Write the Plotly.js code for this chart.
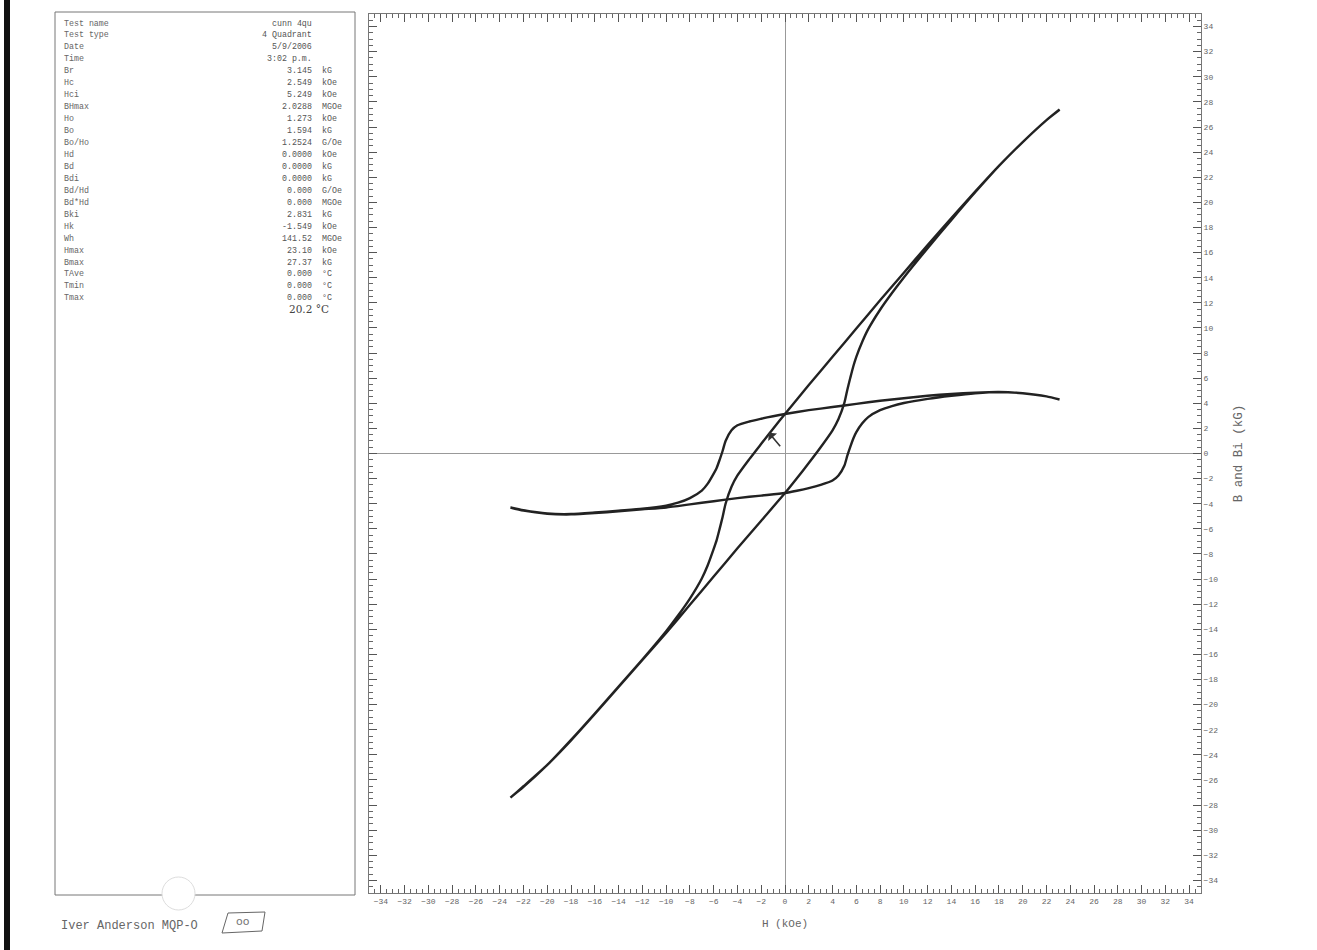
<!DOCTYPE html>
<html>
<head>
<meta charset="utf-8">
<script src="https://cdn.plot.ly/plotly-3.0.1.min.js"></script>
<style>
html,body{margin:0;padding:0;background:#fff;}
#chart{width:1317px;height:950px;}
</style>
</head>
<body>
<div id="chart"></div>
<script>
// ---- Data ----
// Descending branch (H from +Hmax to -Hmax)
const H_desc  = [23.1, 22, 20, 18, 16, 14, 12, 10, 8, 6, 4, 2, 0, -1, -2, -3, -4, -4.5, -5, -5.25, -5.5, -5.75, -6, -6.5, -7, -8, -9, -10, -12, -14, -16, -18, -20, -22, -23.1];
const Bi_desc = [4.3, 4.55, 4.8, 4.9, 4.85, 4.75, 4.6, 4.4, 4.2, 3.95, 3.7, 3.45, 3.15, 2.97, 2.77, 2.55, 2.25, 1.85, 1.0, 0.2, -0.5, -1.15, -1.6, -2.4, -2.95, -3.55, -3.92, -4.15, -4.4, -4.55, -4.7, -4.82, -4.78, -4.52, -4.3];
const B_desc  = [27.37, 26.55, 24.8, 22.9, 20.85, 18.75, 16.6, 14.4, 12.2, 9.95, 7.7, 5.45, 3.15, 1.97, 0.77, -0.45, -1.75, -2.65, -4.0, -5.05, -6.0, -6.9, -7.6, -8.9, -9.95, -11.55, -12.9, -14.15, -16.4, -18.55, -20.7, -22.8, -24.8, -26.5, -27.4];
// Ascending branch (H from -Hmax to +Hmax)
const H_asc   = [-23.1, -22, -20, -18, -16, -14, -12, -10, -8, -6, -4, -2, 0, 1, 2, 3, 4, 4.5, 5, 5.25, 5.5, 5.75, 6, 6.5, 7, 8, 9, 10, 12, 14, 16, 18, 20, 22, 23.1];
const Bi_asc  = [-4.3, -4.55, -4.8, -4.85, -4.75, -4.6, -4.45, -4.3, -4.05, -3.8, -3.55, -3.35, -3.15, -2.97, -2.76, -2.5, -2.15, -1.75, -0.95, -0.15, 0.55, 1.2, 1.7, 2.4, 2.9, 3.45, 3.78, 4.02, 4.35, 4.6, 4.8, 4.9, 4.8, 4.55, 4.3];
const B_asc   = [-27.4, -26.55, -24.8, -22.85, -20.75, -18.6, -16.45, -14.3, -12.05, -9.8, -7.55, -5.35, -3.15, -1.97, -0.76, 0.5, 1.85, 2.75, 4.05, 5.1, 6.05, 6.95, 7.7, 8.9, 9.9, 11.45, 12.78, 14.02, 16.35, 18.6, 20.8, 22.9, 24.8, 26.55, 27.4];

// Parameter table
const paramNames  = ["Test name","Test type","Date","Time","Br","Hc","Hci","BHmax","Ho","Bo","Bo/Ho","Hd","Bd","Bdi","Bd/Hd","Bd*Hd","Bki","Hk","Wh","Hmax","Bmax","TAve","Tmin","Tmax"];
const paramValues = ["cunn 4qu","4 Quadrant","5/9/2006","3:02 p.m.","3.145","2.549","5.249","2.0288","1.273","1.594","1.2524","0.0000","0.0000","0.0000","0.000","0.000","2.831","-1.549","141.52","23.10","27.37","0.000","0.000","0.000"];
const paramUnits  = ["","","","","kG","kOe","kOe","MGOe","kOe","kG","G/Oe","kOe","kG","kG","G/Oe","MGOe","kG","kOe","MGOe","kOe","kG","°C","°C","°C"];
const handNote = "20.2 °C";
const footerText = "Iver Anderson MQP-O";
const boxText = "oo";
const xTitle = "H (kOe)";
const yTitle = "B and Bi (kG)";

// ---- Layout helpers (pixel -> paper) ----
const L = 369, R = 1201, T = 14, Bt = 893;
const px = p => (p - L) / (R - L);
const py = p => (Bt - p) / (Bt - T);
const mono = "Liberation Mono, DejaVu Sans Mono, monospace";

const traces = [
  {x: H_desc.concat(H_asc), y: B_desc.concat(B_asc), mode: 'lines', name: 'B',
   line: {color: '#222', width: 2.4, shape: 'spline', smoothing: 0.6}, hoverinfo: 'skip'},
  {x: H_desc.concat(H_asc), y: Bi_desc.concat(Bi_asc), mode: 'lines', name: 'Bi',
   line: {color: '#222', width: 2.4, shape: 'spline', smoothing: 0.6}, hoverinfo: 'skip'}
];

const annotations = [];
const rowY0 = 23, rowDy = 11.95;
paramNames.forEach((n, i) => {
  const yy = py(rowY0 + i * rowDy);
  annotations.push({xref:'paper', yref:'paper', x: px(62), y: yy, text: n, showarrow:false,
    xanchor:'left', yanchor:'middle', font:{family:mono, size:8.3, color:'#666'}});
  annotations.push({xref:'paper', yref:'paper', x: px(314), y: yy, text: paramValues[i], showarrow:false,
    xanchor:'right', yanchor:'middle', font:{family:mono, size:8.3, color:'#555'}});
  if (paramUnits[i]) {
    annotations.push({xref:'paper', yref:'paper', x: px(320), y: yy, text: paramUnits[i], showarrow:false,
      xanchor:'left', yanchor:'middle', font:{family:mono, size:8.3, color:'#555'}});
  }
});
annotations.push({xref:'paper', yref:'paper', x: px(287), y: py(309), text: handNote, showarrow:false,
  xanchor:'left', yanchor:'middle', font:{family:'DejaVu Serif, serif', size:10.5, color:'#444'}});
annotations.push({xref:'paper', yref:'paper', x: px(59), y: py(926), text: footerText, showarrow:false,
  xanchor:'left', yanchor:'middle', font:{family:mono, size:12, color:'#666'}});
annotations.push({xref:'paper', yref:'paper', x: px(243), y: py(922), text: boxText, showarrow:false,
  xanchor:'center', yanchor:'middle', font:{family:'DejaVu Sans, sans-serif', size:11, color:'#777'}});
// small hand-drawn arrow on the plot
annotations.push({x: -1.35, y: 1.65, ax: -0.3, ay: 0.45, axref:'x', ayref:'y', xref:'x', yref:'y',
  text:'', showarrow:true, arrowhead:1, arrowsize:1.2, arrowwidth:1.6, arrowcolor:'#333'});

const shapes = [
  // parameter panel frame
  {type:'rect', xref:'paper', yref:'paper', x0: px(55), x1: px(355), y0: py(895), y1: py(12),
   line:{color:'#777', width:1}, fillcolor:'rgba(0,0,0,0)', layer:'below'},
  // punch-hole artifact
  {type:'circle', xref:'paper', yref:'paper', x0: px(162), x1: px(195), y0: py(910), y1: py(877),
   line:{color:'#ddd', width:1}, fillcolor:'#fff'},
  // hand-drawn box
  {type:'path', xref:'paper', yref:'paper',
   path: `M ${px(222)} ${py(933)} L ${px(228)} ${py(913)} L ${px(265)} ${py(912)} L ${px(262)} ${py(931)} Z`,
   line:{color:'#666', width:1}},
  // scan edge bar
  {type:'rect', xref:'paper', yref:'paper', x0: px(4), x1: px(10), y0: py(950), y1: py(0),
   line:{width:0}, fillcolor:'#111'}
];

const axisCommon = {
  range: [-35, 35], dtick: 2, tick0: 0, ticks: 'inside', ticklen: 8, tickwidth: 1, tickcolor: '#555',
  showline: true, linecolor: '#777', linewidth: 1, mirror: 'ticks',
  showgrid: false, zeroline: true, zerolinecolor: '#999', zerolinewidth: 1,
  minor: {dtick: 0.5, ticks: 'inside', ticklen: 4, tickcolor: '#666', showgrid: false},
  tickfont: {family: mono, size: 8, color: '#666'}, fixedrange: true
};

const layout = {
  width: 1317, height: 950,
  margin: {l: L, r: 1317 - R, t: T, b: 950 - Bt, pad: 0},
  paper_bgcolor: '#fff', plot_bgcolor: '#fff', showlegend: false,
  xaxis: Object.assign({}, axisCommon, {
    title: {text: xTitle, font: {family: mono, size: 11, color: '#666'}, standoff: 14}
  }),
  yaxis: Object.assign({}, axisCommon, {
    side: 'right',
    title: {text: yTitle, font: {family: mono, size: 12.5, color: '#666'}, standoff: 16}
  }),
  annotations: annotations,
  shapes: shapes
};

Plotly.newPlot('chart', traces, layout, {displayModeBar: false, staticPlot: true});
</script>
</body>
</html>
